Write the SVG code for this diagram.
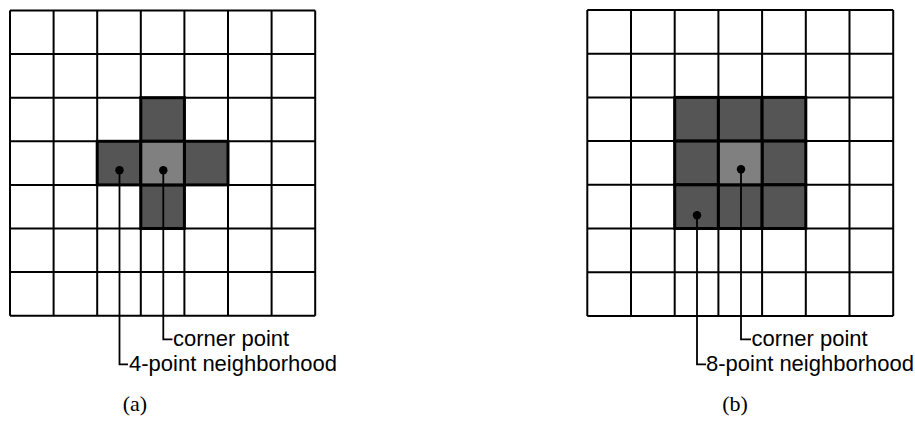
<svg xmlns="http://www.w3.org/2000/svg" width="915" height="429" viewBox="0 0 915 429">
<style>
.bg{fill:#fff}
.grid{fill:none;stroke:#000;stroke-width:2}
.dark{fill:#555;stroke:#000;stroke-width:3}
.light{fill:#808080;stroke:#000;stroke-width:3}
.lead{fill:none;stroke:#000;stroke-width:1.8}
.dot{fill:#000}
.lbl{font-family:"Liberation Sans",Arial,sans-serif;font-size:22px;fill:#000}
.cap{font-family:"Liberation Serif","Times New Roman",serif;font-size:22px;fill:#000}
</style>
<rect class="bg" x="0" y="0" width="915" height="429"/>
<g id="grid-a">
<path class="grid" d="M10,10.5V315.7M53.6,10.5V315.7M97.2,10.5V315.7M140.8,10.5V315.7M184.4,10.5V315.7M228,10.5V315.7M271.6,10.5V315.7M315.2,10.5V315.7M10,10.5H315.2M10,54.1H315.2M10,97.7H315.2M10,141.3H315.2M10,184.9H315.2M10,228.5H315.2M10,272.1H315.2M10,315.7H315.2"/>
</g>
<g id="neighborhood-a">
<rect class="dark" x="140.8" y="97.7" width="43.6" height="43.6"/>
<rect class="dark" x="97.2" y="141.3" width="43.6" height="43.6"/>
<rect class="dark" x="184.4" y="141.3" width="43.6" height="43.6"/>
<rect class="dark" x="140.8" y="184.9" width="43.6" height="43.6"/>
<rect class="light" x="140.8" y="141.3" width="43.6" height="43.6"/>
</g>
<g id="grid-b">
<path class="grid" d="M587.3,10V315.9M631,10V315.9M674.7,10V315.9M718.4,10V315.9M762.1,10V315.9M805.8,10V315.9M849.5,10V315.9M893.2,10V315.9M587.3,10H893.2M587.3,53.7H893.2M587.3,97.4H893.2M587.3,141.1H893.2M587.3,184.8H893.2M587.3,228.5H893.2M587.3,272.2H893.2M587.3,315.9H893.2"/>
</g>
<g id="neighborhood-b">
<rect class="dark" x="674.7" y="97.4" width="43.7" height="43.7"/>
<rect class="dark" x="718.4" y="97.4" width="43.7" height="43.7"/>
<rect class="dark" x="762.1" y="97.4" width="43.7" height="43.7"/>
<rect class="dark" x="674.7" y="141.1" width="43.7" height="43.7"/>
<rect class="dark" x="762.1" y="141.1" width="43.7" height="43.7"/>
<rect class="dark" x="674.7" y="184.8" width="43.7" height="43.7"/>
<rect class="dark" x="718.4" y="184.8" width="43.7" height="43.7"/>
<rect class="dark" x="762.1" y="184.8" width="43.7" height="43.7"/>
<rect class="light" x="718.4" y="141.1" width="43.7" height="43.7"/>
</g>
<g id="connectors">
<path class="lead" d="M163.3,170.3V339.4H172.5"/>
<path class="lead" d="M119.5,170.3V364.4H128"/>
<path class="lead" d="M741,169.3V339.4H751"/>
<path class="lead" d="M697,215.3V364.4H706"/>
<circle class="dot" cx="163.3" cy="170.3" r="4.2"/>
<circle class="dot" cx="119.5" cy="170.3" r="4.2"/>
<circle class="dot" cx="741" cy="169.3" r="4.2"/>
<circle class="dot" cx="697" cy="215.3" r="4.2"/>
</g>
<g id="labels">
<text class="lbl" x="173" y="345.5">corner point</text>
<text class="lbl" x="129" y="370.5">4-point neighborhood</text>
<text class="lbl" x="751.5" y="345.5">corner point</text>
<text class="lbl" x="706" y="370.5">8-point neighborhood</text>
<text class="cap" x="135" y="411" text-anchor="middle">(a)</text>
<text class="cap" x="735" y="411" text-anchor="middle">(b)</text>
</g>
</svg>
